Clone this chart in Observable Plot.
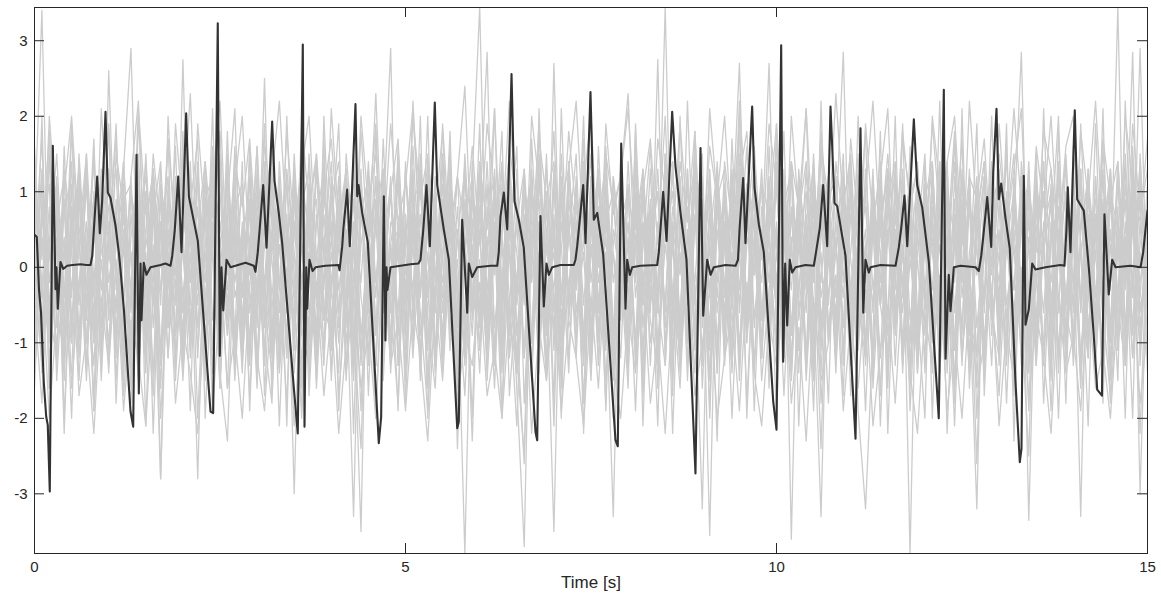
<!DOCTYPE html>
<html><head><meta charset="utf-8">
<script src="https://cdn.jsdelivr.net/npm/d3@7"></script>
<script src="https://cdn.jsdelivr.net/npm/@observablehq/plot@0.6"></script>
<style>body{margin:0;background:#fff}</style>
</head><body><div id="chart"></div>
<script>
// Tick labels
const xTicks = [0, 5, 10, 15];
const yTicks = [-3, -2, -1, 0, 1, 2, 3];

// Gray background traces (values at equal time steps over 0–15 s)
const grayA = [0.6,3.4,-0.8,1.1,-1.2,0.4,1.3,-0.5,0.9,-1.4, 2.6,-0.3,0.7,-1.1,1.5,-0.9,0.2,-2.8,1.0,-0.4, 1.2,-1.0,0.5,1.4,-0.7,0.1,-1.6,0.8,1.1,-0.6, 0.3,-1.3,1.6,-0.2,-1.8,0.9,0.4,-1.0,1.3,-0.5, -0.9,1.1,0.2,-1.5,0.7,1.2,-0.8,0.3,-1.2,1.4, -0.1,0.8,-1.4,1.0,-0.6,1.5,-0.3,-1.1,0.6,1.2, -0.7,0.4,-1.3,1.1,0.2,-1.6,-3.7,1.0,0.5,-0.9, 1.3,-0.4,0.7,-1.2,0.9,1.4,-0.8,0.2,-1.5,0.6, 1.0,-1.1,0.3,1.6,-0.5,-1.3,0.8,0.1,-0.9,1.2, -0.3,0.7,-1.4,1.1,-0.2,0.9,-1.0,1.5,-0.6,0.4, -1.2,0.8,1.3,-0.7,0.2,-1.5,1.0,-0.4,0.6,2.85, -0.8,0.3,-1.1,1.2,-0.5,0.9,1.4,-1.3,0.1,-0.7, 1.1,-0.9,0.5,1.3,-1.6,0.4,-0.2,1.0,-1.1,0.7, -0.4,1.5,-0.8,0.6,-1.3,1.1,0.2,-0.9,1.4,-0.5, 0.9,-1.2,0.3,-0.7,1.6,-0.3,3.45,-1.0,0.8,-0.6, 0.2];
const grayB = [-0.5,1.2,-1.6,0.3,0.9,-1.0,1.5,-0.2,-1.3,0.7, 0.4,-0.9,1.3,2.9,-0.6,0.2,-1.4,1.0,-0.3,1.6, -1.1,0.5,-2.8,0.9,1.2,-0.4,0.7,-1.5,0.3,1.1, -0.8,1.4,0.1,-1.2,0.6,-3.0,0.8,1.3,-0.5,-1.0, 1.2,-0.3,0.5,-1.4,1.0,0.4,-0.9,1.7,-0.6,0.2, -1.3,0.9,1.1,-0.7,-1.6,0.5,1.3,-0.2,-3.8,0.6, 1.0,-0.8,0.3,1.4,-1.2,-0.1,0.7,-1.0,1.5,-0.4, 0.2,-1.3,1.1,0.6,-0.9,1.2,-0.5,0.4,-1.1,1.3, -0.2,0.8,-1.5,0.3,1.0,-0.6,1.4,-1.2,0.5,-0.3, -3.2,1.1,-0.4,0.9,-1.3,0.2,1.6,-0.7,0.4,-1.0, 1.2,-0.5,0.8,-1.1,0.3,1.4,-0.9,0.6,-1.4,1.0, 0.1,-0.8,1.3,-0.3,0.7,-1.6,1.1,-0.2,0.5,-1.2, 0.9,1.4,-0.6,0.2,-1.0,1.2,-0.4,-3.2,1.1,0.3, -0.9,0.6,1.5,-1.3,0.4,-0.2,1.0,-0.7,1.3,-1.1, 0.5,-3.3,1.2,-0.4,0.8,-0.9,1.4,-0.1,2.85,-1.3, 0.6];
const grayC = [1.1,-0.4,0.8,-1.3,1.6,-0.7,0.2,1.2,-1.0,0.5, -1.4,0.9,0.3,-0.6,1.1,-1.2,0.7,1.4,-0.5,-1.1, 2.75,-0.8,0.4,-1.5,1.0,0.6,-0.3,1.3,-1.2,0.1, -0.6,2.5,-1.0,0.5,1.2,-1.4,0.3,-0.8,1.5,0.2, -1.1,0.7,1.0,-0.5,-3.5,1.3,-0.2,0.6,2.9,-1.3, 0.4,1.1,-0.9,0.2,-1.2,1.4,-0.6,0.8,-1.0,1.2, 3.45,-0.7,0.5,-1.3,1.0,-0.3,1.2,-1.5,0.6,-0.2, -3.5,0.9,1.3,-0.8,0.4,-1.1,1.6,-0.4,0.2,-1.2, 1.0,0.3,-1.3,0.7,-0.6,1.1,1.4,-0.9,0.2,-1.4, 0.8,-0.3,1.2,-1.0,0.5,2.7,-0.8,0.3,-1.2,1.1, -0.6,0.4,-1.4,1.3,-0.2,0.9,-1.1,0.5,1.2,-0.8, 0.2,1.5,-1.0,0.6,-0.4,1.1,-1.3,0.8,-3.8,0.9, -0.5,1.2,-0.9,0.3,1.4,-1.2,0.1,-2.6,0.9,-0.4, 1.3,-0.7,0.6,2.85,-1.1,0.4,-0.6,1.0,-1.4,0.7, -0.2,1.1,-1.0,0.5,1.3,-0.8,0.3,-1.2,1.6,-0.5, -0.3];
const grayD = [-1.2,0.5,1.4,-0.8,0.1,1.0,-1.5,0.6,-0.3,1.2, -0.7,0.3,1.1,-1.0,0.8,-0.4,1.3,-2.8,0.4,0.9, -0.6,1.2,-0.3,0.7,-1.4,1.5,-0.9,0.2,1.0,-1.1, 0.6,-0.2,1.3,-1.3,0.4,0.9,-0.7,1.1,-1.6,0.3, 1.4,-0.6,0.2,-1.1,1.0,-0.4,0.7,1.3,-1.2,0.5, -0.8,1.6,-0.3,0.5,-1.4,0.9,0.3,-1.0,1.2,-0.5, 0.7,2.85,-1.1,0.4,-0.6,1.3,-1.2,0.2,0.9,-1.3, 1.1,-0.5,0.6,-1.0,1.4,-0.2,0.8,-1.5,0.3,1.0, -0.9,0.4,1.2,-0.6,2.75,-1.3,0.5,-0.1,1.1,-0.8, 0.3,-3.55,0.9,-0.4,1.3,-1.1,0.6,1.0,-0.7,0.2, -1.0,1.2,-3.6,0.7,-0.3,1.5,-0.8,0.4,-1.2,0.9, 1.3,-0.6,0.2,-1.4,0.8,1.1,-0.5,0.3,-1.0,1.4, -0.3,0.6,-1.2,1.0,0.4,-0.8,1.3,-1.5,0.5,-0.1, 1.1,-0.9,0.7,-0.4,1.2,-1.3,0.3,0.8,-1.1,0.6, -0.5,1.3,-0.8,0.2,-1.2,1.0,0.5,-0.9,1.4,-3.0, 0.4];
const grayE = [0.3,-1.0,1.5,0.2,-1.3,0.8,-0.5,1.1,-0.9,0.6, 1.2,-1.5,0.4,-0.3,0.9,-1.1,1.3,0.1,-0.8,1.0, -0.4,0.7,-1.2,1.1,0.3,-1.6,0.9,-0.2,0.5,-1.0, 1.3,-0.7,0.2,1.0,-1.2,0.6,-0.9,1.5,-0.3,0.4, -1.4,0.8,-0.1,-3.3,0.9,-0.6,1.2,-1.0,0.3,1.1, -0.5,0.6,-1.3,1.4,-0.2,0.9,-1.1,0.4,1.3,-0.7, 0.1,-1.2,1.0,-0.4,0.8,-1.4,0.6,1.2,-0.9,0.3, 0.5,-1.0,1.3,-0.6,0.2,-1.5,1.1,-0.3,-3.3,0.9, -0.2,1.4,-0.8,0.5,-1.2,1.0,0.3,-0.7,1.3,-1.0, 0.6,-0.4,1.1,-1.3,0.2,1.5,-0.9,0.4,-0.2,1.2, -0.7,0.9,-1.2,0.3,1.0,-0.5,-3.3,0.7,-0.4,1.3, -1.1,0.4,0.8,-0.6,1.2,-1.4,0.5,-0.3,1.0,-0.8, 0.3,-1.0,1.4,-0.5,0.7,-1.3,0.9,-0.1,1.2,-0.6, -1.2,0.8,-0.3,1.1,-3.35,0.5,1.0,-0.7,0.2,-1.1, 1.3,-0.4,0.6,-1.0,0.9,-0.2,1.2,-0.8,0.5,1.1, -0.4];
const grayF = [-0.2,1.3,-0.9,0.4,-1.5,1.1,0.3,-0.7,1.6,-1.1, 0.5,-0.6,1.0,-1.3,0.2,1.4,-0.8,0.6,-1.2,0.9, 0.2,-1.1,1.3,-0.5,0.8,-0.9,1.5,-0.4,0.1,-1.3, 0.9,-0.3,-1.1,1.2,-0.6,0.4,1.4,-1.5,0.7,-0.2, 1.1,-0.8,0.5,-1.2,0.3,1.0,-0.4,1.3,-1.0,0.6, -0.3,1.2,-1.5,0.7,-0.1,1.1,-0.9,0.5,-1.2,1.4, -0.6,0.3,1.0,-1.1,0.6,-0.4,1.3,-0.9,0.2,-1.4, 1.2,-0.7,0.4,1.5,-1.0,0.3,-0.6,1.1,-1.3,0.8, -0.4,1.0,-1.1,0.6,-0.3,3.45,-0.9,1.2,-0.5,0.7, -1.2,0.4,1.3,-0.8,0.9,-0.3,1.1,-1.4,0.5,-0.6, 1.4,-1.0,0.3,0.8,-1.3,0.6,-0.2,1.2,-0.9,0.4, -0.5,1.1,-1.2,0.9,0.2,-1.5,1.3,-0.4,0.7,-1.0, 0.8,-0.3,1.2,-1.1,0.5,0.1,-1.4,1.0,-0.6,1.3, -0.9,0.3,1.0,-0.5,1.4,-1.2,0.6,-0.2,1.1,-1.3, 0.4,0.9,-1.1,1.2,-0.6,0.3,-1.0,1.5,-0.4,2.9, -0.7];
const grayG = [0.9,-1.4,0.6,1.1,-0.3,-1.0,1.4,-0.6,0.3,1.0, -1.2,0.7,-0.4,1.2,-0.9,0.5,1.3,-1.1,0.2,-0.5, 1.5,-0.2,0.8,-1.3,0.4,1.0,-0.7,0.3,-1.4,1.2, -0.5,0.6,-0.9,1.4,-0.2,1.1,-1.3,0.5,0.9,-1.1, 0.2,-0.6,1.3,-1.0,0.7,-0.3,1.2,-1.5,0.6,0.4, -0.9,1.0,-0.4,1.3,-1.1,0.2,0.8,-0.7,1.5,-0.3, -1.0,0.7,1.2,-0.6,0.3,-1.2,1.0,-0.2,0.6,-1.3, 2.7,-0.9,0.5,-0.3,1.2,-1.4,0.4,0.9,-0.8,0.2, -1.1,1.3,-0.5,0.7,1.0,-1.0,0.3,-1.3,1.1,-0.4, 0.6,-0.8,1.4,-0.3,0.2,-1.2,1.1,0.5,-1.0,0.8, -0.2,1.3,-0.9,0.4,-1.4,1.0,0.6,-0.5,1.2,-1.1, 0.7,-0.3,1.0,-1.2,0.5,1.3,-0.7,0.2,-1.0,1.1, -0.6,0.4,-1.3,0.8,-0.2,1.2,-0.9,0.6,1.4,-0.7, 0.2,-1.1,0.9,-0.4,1.3,-0.8,0.5,1.0,-1.2,0.3, -0.9,1.2,-0.3,0.7,-1.4,0.9,-0.5,1.1,-0.2,-1.0, 0.8];
const grayH = [-0.8,0.4,-0.2,1.2,-1.1,0.7,-0.9,1.3,-0.4,0.2, 0.6,-1.2,1.4,-0.5,0.3,-1.0,1.1,-0.3,0.8,-1.5, 0.4,1.1,-0.8,0.2,-1.1,1.3,-0.5,0.6,-0.9,1.5, -1.2,0.3,0.9,-0.6,1.1,-0.1,-1.4,0.8,-0.4,1.2, -0.3,0.9,-1.3,0.4,1.2,-0.8,0.6,-1.1,0.3,-0.6, 1.3,-0.5,0.7,-1.1,0.4,-0.2,1.1,-1.4,0.9,0.2, -0.5,1.4,-0.8,0.3,-1.1,0.8,-0.2,1.3,-1.2,0.5, -0.3,1.0,-1.2,0.4,0.9,-0.6,1.3,-1.0,0.2,-0.7, 1.4,-0.4,0.6,-1.0,-0.2,1.2,-1.3,0.5,0.8,-0.9, -0.1,1.3,-0.6,0.4,-1.2,0.7,1.0,-0.8,0.3,2.7, -0.9,0.5,-0.3,1.1,-1.2,0.4,0.9,-1.0,0.6,-0.4, 1.2,-1.1,0.3,0.7,-0.5,1.3,-0.9,0.2,-1.3,0.8, 0.4,-0.7,1.1,-1.4,0.6,-0.2,1.0,-0.8,0.3,1.2, -1.3,0.7,0.2,-0.6,1.1,-1.0,0.5,1.3,-0.4,-0.9, 0.8,-0.5,1.3,-1.2,0.2,-0.8,1.1,-0.3,0.6,-1.1, 1.0];
const grayI = [1.4,-0.7,0.2,-1.1,0.8,-0.3,1.0,-1.3,0.5,1.2, -0.5,0.8,-1.3,0.4,1.2,-0.9,0.3,-1.2,1.1,-0.2, -0.8,0.6,1.2,-1.2,0.5,-0.6,1.4,-1.0,0.2,0.7, -1.3,1.1,-0.4,0.8,-1.0,1.3,-0.2,0.5,-1.2,0.9, 0.4,-1.0,0.7,1.1,-0.9,0.3,-1.3,0.8,-0.5,1.2, -1.1,0.3,1.2,-0.4,0.9,-1.2,0.6,-0.8,1.4,-0.6, 0.5,-1.3,0.8,-0.2,1.1,-0.9,0.4,1.2,-1.1,0.3, -0.8,1.2,-0.4,0.6,-1.3,1.0,-0.2,0.7,-0.9,1.4, -0.6,0.2,1.1,-1.3,0.6,-0.5,1.3,-0.9,0.4,-0.2, 1.2,-1.0,0.5,-0.6,1.1,-1.3,0.3,0.9,-0.7,1.0, 0.3,-1.2,0.7,-0.4,1.3,-0.9,0.5,1.0,-1.1,0.2, -0.6,1.3,-0.2,0.5,-1.2,0.9,-0.6,1.1,0.3,-1.3, 1.0,-0.5,0.3,-1.1,1.2,-0.4,0.8,-1.2,0.2,1.4, -0.7,0.5,-1.0,1.2,-0.6,0.9,-1.3,0.4,0.8,-0.5, 1.1,-1.3,0.4,0.9,-0.7,1.2,-0.4,0.3,-1.2,0.6, -0.9];
const grayJ = [-1.6,0.8,-0.5,1.0,-2.0,0.4,1.1,-1.4,0.7,-0.8, 1.3,-1.8,0.5,0.2,-1.5,1.0,-2.2,0.6,-0.6,1.2, -1.3,0.9,-2.0,0.3,1.1,-1.6,0.5,-0.9,1.4,-1.9, 0.6,-1.2,0.8,-2.1,0.4,-1.0,1.2,-1.7,0.2,-0.7, 1.0,-1.9,0.3,-0.8,-2.4,0.6,-1.3,0.9,-0.5,-1.8, 0.7,-1.1,1.3,-2.0,0.4,-0.9,1.0,-1.6,0.2,-2.3, 0.8,-0.6,1.1,-1.9,0.3,-1.2,-2.5,0.5,-1.4,0.9, -2.1,1.0,-0.7,0.4,-1.8,1.2,-0.9,0.2,-2.0,0.6, -1.1,0.8,-1.7,0.3,-0.5,1.1,-2.2,0.5,-1.0,1.3, -1.6,0.4,-2.3,0.9,-0.6,1.0,-1.8,0.3,-1.1,0.7, -2.0,0.6,-0.9,1.2,-1.5,0.2,-2.4,0.8,-0.7,1.0, -1.7,0.4,-1.1,0.9,-2.1,0.5,-0.8,1.3,-1.9,0.2, 0.7,-1.4,1.0,-2.2,0.4,-0.9,1.2,-2.0,0.3,-1.3, 0.9,-1.8,0.5,-0.7,-2.5,1.1,-1.2,0.6,-2.0,0.8, -1.0,0.3,-2.1,1.2,-0.6,-1.7,0.4,-0.9,1.0,-2.2, 0.5];
const grayK = [1.6,-0.4,2.0,0.6,-0.9,1.8,0.2,1.3,-0.7,2.1, 0.4,1.7,-0.5,1.2,2.2,-0.3,1.5,0.5,-0.8,1.9, 0.7,2.3,-0.2,1.4,0.3,1.8,-0.6,1.1,2.0,0.1, 1.6,-0.4,1.2,2.2,0.5,-0.7,1.9,0.8,1.4,-0.3, 2.1,0.6,1.3,-0.5,1.8,0.2,2.3,-0.2,1.0,1.7, -0.4,2.0,0.9,1.5,-0.6,1.9,0.3,1.2,2.4,-0.1, 1.4,0.5,2.1,-0.3,1.6,0.8,-0.5,2.0,1.1,0.2, 1.8,-0.4,1.3,2.2,0.4,1.5,-0.6,1.9,0.7,1.2, 2.3,-0.2,1.0,1.7,0.3,2.0,-0.5,1.4,0.6,1.8, -0.3,2.1,0.9,1.3,-0.4,2.2,0.5,1.6,0.1,1.9, 1.1,-0.6,2.0,0.7,1.4,-0.2,1.8,0.4,2.3,0.8, 1.5,-0.4,1.9,0.6,1.2,2.1,-0.3,1.7,0.9,1.3, -0.5,2.0,1.1,0.3,1.8,-0.2,2.2,0.7,1.4,-0.6, 1.9,0.5,1.3,2.1,-0.4,1.6,0.8,2.0,0.2,1.5, -0.3,1.8,0.9,2.2,0.4,1.3,-0.5,2.0,1.1,0.6, 1.7];
const grayL = [0.2,1.7,-1.3,0.6,-0.4,1.9,-1.0,0.3,-1.8,1.2, -0.6,1.5,0.8,-1.4,2.0,-0.3,-1.7,1.1,0.4,-0.9, 1.8,-1.2,0.5,-0.2,1.6,-1.5,0.9,2.1,-0.8,0.3, -1.6,1.3,0.6,-1.1,2.0,-0.5,-1.9,0.8,1.5,-0.7, 0.4,1.9,-1.4,-0.3,1.2,-1.7,0.9,0.2,-1.1,1.6, -0.8,2.2,0.3,-1.5,0.7,-0.4,1.8,-1.2,0.5,-2.0, 1.3,-0.6,2.1,-1.0,0.4,1.6,-1.8,0.2,1.9,-0.9, 0.6,-1.6,1.4,-0.3,2.0,-1.1,0.8,-1.9,1.2,0.3, -1.3,1.7,-0.2,0.9,-1.6,1.5,0.4,-1.0,2.2,-0.5, 0.7,-1.9,1.2,0.3,-1.4,2.0,-0.7,1.0,-1.2,1.6, -0.4,1.8,-1.5,0.5,2.1,-1.0,0.2,-1.8,1.4,0.6, -1.1,2.0,-0.6,1.3,-1.7,0.8,-0.2,1.9,-1.4,0.4, 1.5,-0.9,2.2,-1.2,0.3,1.7,-1.6,0.6,-0.4,2.0, -1.0,0.9,-1.7,1.4,0.2,-1.3,2.1,-0.5,0.8,-1.8, 1.6,0.3,-1.2,1.9,-0.7,0.5,-1.5,2.2,-0.3,1.0, -1.4];
const grayM = [-0.9,2.0,-1.6,1.1,-2.2,0.6,-0.3,1.5,-1.9,0.4, 1.8,-1.0,0.3,-1.6,1.4,-2.1,0.9,-0.5,1.7,-1.3, 0.6,-1.9,1.3,-0.7,2.1,-1.4,-2.3,0.5,-1.1,1.6, -0.4,1.9,-1.7,0.7,-1.2,1.4,-2.0,0.2,-0.8,1.7, -1.5,0.5,1.2,-2.2,0.9,-0.6,1.8,-1.3,0.3,-1.9, 1.4,-0.7,2.0,-1.6,0.6,-1.1,1.2,-2.4,0.8,-0.5, 1.9,-1.5,0.4,-2.0,1.3,-0.8,-2.6,1.7,-0.3,1.0, -1.8,2.1,-0.6,1.2,-2.2,0.7,-1.3,1.6,-0.9,0.3, -1.4,1.8,-2.1,0.8,-0.5,1.3,-1.7,2.0,-1.0,0.6, 1.5,-2.0,0.9,-1.2,1.7,-0.6,1.1,-1.9,0.5,-1.4, 1.9,-0.8,1.3,-2.1,0.6,-1.5,2.2,-1.0,0.4,-1.7, 1.2,-1.9,-3.2,-0.9,1.8,-2.2,0.5,-1.3,1.6,-0.6, -2.0,1.4,-0.5,1.0,-1.8,2.1,-1.2,0.7,-1.5,1.3, -0.7,1.9,-2.3,0.9,-1.0,1.5,-1.8,0.4,2.0,-1.2, 0.6,-1.6,1.3,-0.9,2.1,-1.5,0.8,-2.0,1.4,-0.4, 1.1];
const grayN = [0.7,-1.1,0.3,1.5,-0.6,-1.4,0.9,0.2,-1.0,1.3, -0.2,0.6,-1.5,1.0,0.4,-0.8,1.2,-1.3,0.5,-0.1, 1.1,-0.7,0.3,-1.2,1.4,0.1,-0.9,1.0,-0.4,0.8, -1.5,0.5,1.2,-0.3,0.7,-1.1,1.3,-0.6,0.2,-1.3, 0.9,1.4,-0.5,0.3,-1.2,0.8,-0.2,1.1,-1.4,0.6, 0.2,-0.9,1.5,-0.4,1.0,-1.3,0.5,1.2,-0.7,0.3, -1.4,0.8,-0.1,1.3,-0.9,0.6,-1.2,1.0,0.4,-0.6, 1.2,-1.3,0.5,-0.2,1.4,-0.8,0.3,-1.1,0.9,-0.4, 0.6,-1.0,1.3,-0.5,0.2,1.1,-1.4,0.7,-0.3,1.5, -0.8,0.3,-1.2,1.4,0.6,-0.5,1.0,-1.3,0.8,-0.2, 1.3,-0.6,0.4,-1.4,0.9,1.2,-0.7,0.2,-1.1,1.0, -0.4,0.7,-1.3,0.5,1.4,-0.9,0.2,-0.6,1.1,-1.2, 0.6,1.3,-0.8,0.4,-1.5,0.9,-0.3,1.2,-1.0,0.5, -0.2,1.0,-1.4,0.8,0.3,-0.7,1.4,-1.1,0.4,0.9, -1.3,0.5,1.1,-0.4,0.8,-1.2,0.2,1.3,-0.9,0.3, 0.8];
const grayO = [-1.3,0.9,-0.2,0.6,1.2,-0.8,0.4,-1.5,1.0,-0.3, 0.8,1.3,-1.0,0.2,-0.7,1.5,-0.4,0.9,-1.2,0.5, -0.6,1.4,-1.1,0.3,0.9,-0.5,1.2,-1.4,0.6,-0.1, 1.0,-0.8,0.5,-1.3,1.3,0.2,-0.6,1.1,-1.0,0.7, -0.4,1.2,-1.5,0.6,-0.2,1.4,-0.9,0.3,1.1,-1.2, 0.5,-0.3,1.3,-1.0,0.8,-0.6,1.1,-1.4,0.2,0.9, -0.7,1.1,-1.3,0.5,1.5,-0.4,0.2,-1.0,1.3,-0.8, 0.4,-1.4,0.9,-0.1,1.2,-0.9,0.6,1.4,-1.2,0.3, -0.6,1.2,-0.3,0.8,-1.3,0.4,1.0,-0.7,1.3,-1.1, 0.2,0.9,-1.4,0.6,-0.5,1.3,-1.0,0.3,1.1,-0.9, 0.5,-1.2,1.4,-0.3,0.7,-1.1,0.4,1.2,-1.3,0.6, 1.0,-0.5,-1.2,0.8,-0.2,1.3,-0.8,0.5,1.1,-1.4, 0.3,-0.9,1.4,-0.6,0.9,-1.2,0.2,1.0,-0.5,1.3, -1.1,0.4,-0.3,1.2,-1.4,0.7,1.0,-0.8,0.3,-1.0, 1.2,-0.6,0.7,-1.3,0.5,1.1,-1.1,0.4,-0.2,1.4, -0.5];
const grayP = [-0.5,-1.8,0.4,-1.1,0.9,-1.6,-0.2,0.6,-1.9,0.1, -1.0,0.7,-1.7,-0.3,0.5,-1.4,0.8,-2.0,-0.1,0.4, -1.5,0.2,-0.8,0.9,-1.9,-0.4,0.6,-1.3,0.3,-1.7, 0.5,-1.0,-1.8,0.7,-0.5,0.2,-1.6,0.8,-1.2,-0.2, 0.6,-1.7,-0.4,0.9,-1.3,0.1,-2.0,0.5,-0.9,0.3, -1.5,0.7,-0.6,-1.9,0.4,-1.1,0.8,-0.3,-1.7,0.6, -0.8,0.3,-1.6,0.9,-0.4,-2.1,0.5,-1.0,0.2,-1.5, 0.7,-1.2,-0.2,0.6,-1.8,0.3,-0.9,0.8,-1.4,-0.5, 0.4,-1.9,0.6,-0.7,-1.3,0.8,-0.3,-1.6,0.5,-1.0, 0.9,-1.4,-0.1,0.5,-2.0,0.2,-0.8,0.7,-1.5,-0.3, 0.6,-1.7,0.3,-1.1,-0.4,0.8,-1.8,0.1,-0.6,0.9, -1.3,0.4,-1.9,0.6,-0.5,-1.2,0.7,-0.2,-1.6,0.5, -0.9,0.8,-1.4,0.2,-2.1,0.6,-0.7,-1.1,0.9,-0.4, -1.7,0.3,-0.6,0.8,-1.3,-0.2,0.5,-1.9,0.4,-0.8, 0.7,-1.5,0.1,-1.0,0.6,-1.8,-0.3,0.9,-1.2,0.2, -0.6];
const grayQ = [1.2,0.1,1.8,-0.3,1.0,2.0,0.4,1.5,-0.2,1.1, 1.9,0.3,1.4,-0.4,2.1,0.7,1.2,0.0,1.7,0.5, 1.3,-0.2,1.9,0.6,1.1,2.2,-0.1,1.4,0.8,1.7, 0.2,1.6,0.9,-0.3,1.8,0.5,1.3,2.0,0.1,1.0, 1.7,0.4,1.2,-0.2,2.0,0.8,1.5,0.3,1.9,0.6, 1.1,2.1,0.2,1.4,0.7,1.8,-0.3,1.2,0.5,1.6, 0.3,1.9,1.0,0.4,2.2,0.6,1.3,-0.1,1.7,0.9, 1.4,0.2,1.8,0.7,1.1,2.0,0.0,1.5,0.8,1.2, 2.1,0.5,1.3,-0.2,1.7,1.0,0.3,1.9,0.6,1.4, 0.1,1.6,0.9,2.0,0.4,1.2,1.8,-0.1,1.1,0.7, 1.9,0.3,1.4,0.8,2.1,0.2,1.6,0.9,1.2,-0.2, 1.7,0.6,1.0,2.2,0.4,1.5,0.1,1.8,0.8,1.3, 0.2,1.9,0.7,1.4,2.0,0.3,1.2,0.9,1.7,0.0, 1.5,0.6,2.1,0.8,1.1,0.2,1.8,1.3,0.4,1.6, 2.0,0.5,1.2,0.1,1.7,0.9,1.4,-0.2,1.9,0.7, 1.3];
const grayR = [-1.4,-0.2,-2.0,-0.6,-1.1,0.3,-1.7,-0.9,-2.2,-0.4, -1.3,0.1,-1.9,-0.7,-1.2,-2.1,-0.3,-1.5,0.2,-1.8, -0.8,-1.4,-2.2,-0.5,-1.0,0.2,-1.6,-0.9,-2.0,-0.3, -1.2,-1.9,-0.4,-1.4,0.0,-2.1,-0.8,-1.3,-0.2,-1.7, -0.6,-2.2,-1.0,-0.3,-1.6,-0.8,-2.0,0.1,-1.3,-0.7, -1.9,-0.5,-1.2,-2.3,-0.4,-1.5,0.2,-1.8,-0.9,-1.3, -0.2,-1.7,-1.1,-2.0,-0.6,-1.4,-0.1,-2.2,-0.8,-1.5, -0.3,-1.9,-0.7,-1.2,-2.1,-0.4,-1.6,0.1,-1.3,-2.0, -0.6,-1.4,-0.2,-1.8,-0.9,-2.2,-0.5,-1.1,0.0,-1.7, -1.0,-0.3,-2.0,-1.2,-0.6,-1.9,-0.2,-1.4,-2.1,-0.7, -1.3,0.0,-1.8,-0.8,-2.3,-0.4,-1.5,-1.0,-0.1,-1.9, -0.7,-1.6,-0.3,-2.1,-1.1,-0.5,-1.8,-0.2,-1.4,-2.2, -0.6,-1.3,-0.1,-1.9,-0.9,-2.0,-0.4,-1.6,-1.0,-0.3, -2.1,-0.8,-1.5,0.0,-1.8,-0.6,-1.2,-2.2,-0.4,-1.4, -0.9,-1.9,-0.3,-1.6,-1.1,-2.0,-0.5,-1.3,-0.1,-1.8, -0.8];
const grayS = [0.4,1.0,-0.6,-1.2,1.3,0.5,-0.9,0.1,1.4,-1.0, 0.2,-0.5,0.9,1.1,-1.4,0.4,-0.2,1.3,-0.8,0.6, -1.2,1.0,0.1,-0.6,1.5,-1.0,0.3,0.8,-1.3,0.4, 1.1,-0.5,-1.4,0.9,0.2,-0.8,1.2,0.4,-1.1,1.4, -0.7,0.5,-1.0,0.2,1.3,-1.3,0.7,-0.3,1.0,-0.9, 1.2,0.3,-1.2,0.6,-0.4,1.4,-0.8,0.1,-1.3,0.9, 0.4,-1.0,1.3,-0.5,0.9,-1.4,0.2,1.1,-0.6,1.5, -1.1,0.6,-0.3,1.0,-1.2,0.4,1.3,-0.9,0.5,-0.2, 1.1,-1.3,0.3,0.8,-0.6,1.4,-1.1,0.2,-0.8,1.0, -0.4,1.2,-1.0,0.3,0.9,-1.5,0.6,-0.1,1.3,-0.7, 0.2,-1.1,1.4,-0.6,0.5,-1.3,1.1,0.3,-0.9,1.2, -0.3,0.8,-1.2,1.0,-0.5,0.4,1.3,-1.0,0.6,-1.4, 1.1,0.2,-0.7,1.4,-1.1,0.5,-0.2,0.9,-1.3,0.6, 0.3,-1.2,1.2,-0.4,0.7,-0.9,1.4,-1.3,0.1,1.0, -0.6,1.3,-1.0,0.4,0.8,-1.4,0.6,-0.1,1.2,-0.8, 0.3];
const grayT = [-0.3,0.6,1.1,-1.5,0.3,-0.4,1.2,-1.0,0.8,-0.6, 1.3,-0.2,-1.1,0.7,-0.3,1.0,-1.5,0.5,1.2,-0.9, 0.3,-0.5,1.4,-1.0,0.6,-1.3,0.2,1.1,-0.7,0.9, -0.4,1.2,-1.2,0.3,-0.9,1.5,-0.3,0.6,-1.4,1.0, -0.2,0.7,-0.8,1.4,-1.2,0.5,0.9,-0.6,1.2,-1.3, 0.7,-1.2,0.4,-0.6,1.2,-1.0,1.4,-0.5,0.3,-0.9, 1.2,-0.3,0.6,-1.4,0.9,0.2,-1.1,0.7,-0.4,1.3, -0.6,0.3,-1.4,1.1,-0.5,0.8,-1.0,1.3,-0.2,0.5, -1.2,0.9,-0.4,1.3,-1.0,0.3,-0.5,1.1,-1.5,0.6, 0.4,-1.1,0.8,-0.2,-1.3,1.1,-0.6,1.4,-1.0,0.2, -0.5,1.0,-0.8,0.6,-1.2,1.3,-0.4,0.2,1.1,-1.3, 0.9,-0.2,0.5,-1.3,1.2,-0.7,1.0,-1.2,0.3,1.1, -1.4,0.6,-0.3,1.1,-0.6,0.8,-1.3,0.4,1.2,-0.9, 0.5,-1.3,1.1,-0.2,0.6,-1.0,0.3,-1.4,1.2,-0.5, 0.9,-0.4,-1.2,0.7,-0.3,1.3,-1.1,0.6,-0.8,1.2, -0.2];
const grayU = [1.0,-0.2,-1.0,0.8,-0.7,1.4,-1.2,0.3,0.9,-1.5, 0.6,-1.1,0.9,-0.4,1.3,-0.6,0.1,-1.3,1.0,0.3, -0.9,0.8,-0.5,1.2,-1.1,0.4,-0.7,1.6,-0.2,-1.2, 0.7,-0.6,1.3,-0.9,0.5,-0.4,1.0,-1.2,0.6,1.3, -1.0,0.3,-0.6,1.5,-0.4,-1.1,0.8,-0.2,1.1,-0.8, 0.3,1.3,-1.1,-0.1,0.7,-1.4,1.0,0.4,-0.8,1.1, -1.1,0.2,0.9,-0.8,1.4,-0.5,0.3,-1.3,1.1,0.5, -0.9,1.5,-0.6,0.3,-1.0,1.2,-1.3,0.6,1.0,-0.5, 0.3,-1.2,0.9,-0.4,1.3,-0.8,0.6,-1.4,0.2,1.1, -1.3,0.7,-0.2,1.1,-1.0,0.4,-0.6,1.3,-1.2,0.5, 1.0,-0.3,-1.3,0.9,-0.6,1.1,-1.4,0.6,0.3,-0.8, 1.4,-1.0,0.3,-0.5,1.0,-1.2,0.7,1.2,-0.7,0.1, -1.2,1.0,-0.4,0.7,-1.1,1.3,-0.6,0.3,-1.4,0.8, 1.2,-0.5,0.3,-1.2,0.9,-0.2,-1.0,1.1,-0.6,1.4, -1.1,0.2,0.9,-0.6,1.2,-1.0,0.4,-1.3,0.7,-0.2, 0.6];
const grayV = [-0.1,-1.3,1.8,-0.6,0.4,-2.0,1.0,-0.3,1.7,-1.2, 0.3,1.9,-0.9,-1.8,0.6,1.2,-0.4,-1.6,2.0,0.1, -1.4,0.8,1.7,-2.0,0.2,-0.7,1.8,-1.1,0.5,-0.3, 1.6,-1.7,0.4,0.9,-2.1,1.3,-0.5,0.2,-1.5,2.0, -0.3,-1.4,1.5,0.3,-1.9,0.7,1.9,-1.0,-0.2,1.4, -1.8,0.6,-0.4,2.0,-1.3,0.1,1.6,-2.0,0.8,-0.6, 1.3,-1.1,0.2,1.8,-1.7,-0.3,1.1,-1.5,2.1,-0.8, 0.5,-2.0,1.4,-0.2,1.7,-1.2,0.4,-1.8,1.2,0.0, -1.6,1.9,-0.5,0.3,-2.1,1.5,-0.7,1.0,-1.3,1.8, -0.2,-1.5,1.3,-0.9,0.6,1.9,-2.0,0.4,1.1,-1.6, 1.7,-0.6,-1.4,1.2,0.3,-1.9,1.6,-0.8,0.2,1.5, -1.2,0.5,1.8,-1.6,0.1,-0.7,2.0,-1.4,0.6,-1.0, 1.4,-2.0,0.8,-0.3,1.7,-1.1,-0.2,1.9,-1.7,0.4, -0.5,1.6,-1.3,0.9,-1.9,1.2,0.2,-1.5,1.8,-0.6, -1.1,1.9,-0.4,0.7,-1.8,1.3,-0.9,0.4,-2.0,1.5, -0.3];
const graySeries = [grayA, grayB, grayC, grayD, grayE, grayF, grayG, grayH, grayI, grayJ, grayK, grayL, grayM, grayN, grayO, grayP, grayQ, grayR, grayS, grayT, grayU, grayV];

// Dark trace: time [s] and value
const ecgTime = [
  0, 0.031, 0.061, 0.088, 0.125, 0.158, 0.179, 0.206, 0.247, 0.283,
  0.296, 0.314, 0.350, 0.387, 0.441, 0.512, 0.620, 0.701, 0.755, 0.778,
  0.809, 0.845, 0.880, 0.912, 0.957, 0.988, 1.024, 1.092, 1.136, 1.159,
  1.204, 1.294, 1.330, 1.375, 1.406, 1.429, 1.442, 1.473, 1.509, 1.563,
  1.698, 1.765, 1.833, 1.856, 1.891, 1.937, 1.981, 2.044, 2.080, 2.125,
  2.201, 2.372, 2.408, 2.470, 2.497, 2.520, 2.543, 2.588, 2.642, 2.776,
  2.844, 2.956, 2.978, 3.009, 3.036, 3.082, 3.127, 3.203, 3.235, 3.292,
  3.338, 3.495, 3.548, 3.616, 3.639, 3.662, 3.675, 3.706, 3.747, 3.787,
  3.922, 4.097, 4.111, 4.147, 4.164, 4.214, 4.249, 4.326, 4.349, 4.367,
  4.416, 4.492, 4.627, 4.640, 4.672, 4.708, 4.730, 4.744, 4.757, 4.798,
  4.933, 5.067, 5.175, 5.202, 5.238, 5.283, 5.328, 5.395, 5.427, 5.516,
  5.584, 5.697, 5.718, 5.764, 5.832, 5.853, 5.899, 5.966, 6.146, 6.236,
  6.257, 6.280, 6.325, 6.371, 6.429, 6.469, 6.527, 6.594, 6.752, 6.775,
  6.819, 6.864, 6.900, 6.931, 6.977, 7.089, 7.268, 7.291, 7.314, 7.395,
  7.426, 7.493, 7.538, 7.584, 7.664, 7.830, 7.861, 7.907, 7.965, 7.988,
  8.023, 8.055, 8.167, 8.392, 8.414, 8.473, 8.518, 8.594, 8.639, 8.706,
  8.787, 8.908, 8.976, 9.012, 9.066, 9.111, 9.155, 9.313, 9.448, 9.481,
  9.505, 9.551, 9.582, 9.672, 9.704, 9.762, 9.829, 9.956, 10.000, 10.063,
  10.090, 10.117, 10.144, 10.179, 10.212, 10.256, 10.391, 10.503, 10.539, 10.584,
  10.629, 10.683, 10.728, 10.782, 10.818, 10.930, 11.065, 11.132, 11.169, 11.199,
  11.244, 11.267, 11.402, 11.604, 11.648, 11.681, 11.725, 11.762, 11.851, 11.896,
  11.964, 12.053, 12.187, 12.255, 12.278, 12.322, 12.345, 12.390, 12.480, 12.682,
  12.726, 12.759, 12.786, 12.840, 12.894, 12.921, 12.965, 12.996, 13.028, 13.086,
  13.144, 13.221, 13.279, 13.302, 13.333, 13.356, 13.400, 13.446, 13.491, 13.625,
  13.827, 13.881, 13.908, 13.926, 13.962, 14.020, 14.052, 14.141, 14.209, 14.276,
  14.322, 14.386, 14.420, 14.478, 14.524, 14.569, 14.771, 14.906, 14.942, 14.973,
  15.0
];
const ecgValue = [
  0.43, 0.40, -0.3, -0.6, -1.52, -1.98, -2.09, -2.97, 1.61, -0.29,
  0.0, -0.55, 0.07, -0.02, 0.02, 0.03, 0.04, 0.03, 0.03, 0.15,
  0.64, 1.2, 0.45, 0.88, 2.06, 0.99, 0.92, 0.55, 0.2, -0.03,
  -0.55, -1.91, -2.11, 1.49, -1.67, 0.05, -0.7, 0.06, -0.1, 0.0,
  0.03, 0.05, 0.02, 0.15, 0.5, 1.2, 0.2, 2.04, 0.94, 0.72,
  0.35, -1.91, -1.93, 3.23, -1.17, 0.0, -0.57, 0.1, 0.0, 0.04,
  0.06, 0.02, -0.06, 0.2, 0.52, 1.09, 0.26, 1.93, 1.14, 0.72,
  0.32, -1.6, -2.2, 2.95, -2.11, 0.0, -0.55, 0.1, -0.05, 0.0,
  0.02, 0.03, -0.04, 0.28, 0.52, 1.03, 0.28, 2.16, 0.94, 1.09,
  0.72, 0.33, -2.09, -2.33, -1.98, 0.94, -0.97, 0.0, -0.3, 0.0,
  0.02, 0.04, 0.05, 0.1, 0.48, 1.09, 0.28, 2.18, 1.09, 0.5,
  0.1, -2.13, -2.05, 0.63, -0.6, 0.05, -0.13, 0.0, 0.02, 0.02,
  0.2, 0.67, 0.99, 0.5, 2.56, 0.87, 0.63, 0.26, -2.18, -2.29,
  0.68, -0.52, 0.05, -0.1, 0.0, 0.03, 0.03, 0.1, 0.28, 1.09,
  0.32, 2.32, 0.63, 0.72, 0.17, -2.29, -2.37, 1.64, -0.55, 0.1,
  -0.1, 0.0, 0.02, 0.03, 0.2, 1.0, 0.35, 2.06, 1.33, 0.72,
  0.1, -2.73, 1.58, -0.64, 0.1, -0.1, 0.0, 0.03, 0.02, 0.1,
  0.55, 1.18, 0.32, 2.13, 1.05, 0.57, 0.2, -1.78, -2.15, 2.94,
  -1.25, 0.05, -0.77, 0.1, -0.07, 0.0, 0.03, 0.02, 0.24, 0.52,
  1.09, 0.28, 2.13, 0.85, 0.81, 0.15, -2.27, 1.84, -0.6, 0.1,
  -0.07, 0.0, 0.03, 0.02, 0.26, 0.52, 0.95, 0.28, 1.96, 1.09,
  0.79, 0.07, -2.0, 2.35, -1.21, -0.1, -0.58, 0.0, 0.02, 0.0,
  -0.05, 0.15, 0.4, 0.93, 0.27, 1.26, 2.1, 0.9, 1.11, 0.65,
  0.25, -1.52, -2.58, -2.4, 1.21, -0.76, -0.56, 0.05, -0.03, 0.0,
  0.03, 0.02, 0.5, 1.06, 0.2, 2.08, 0.9, 0.75, 0.0, -0.91,
  -1.62, -1.7, 0.7, -0.36, 0.1, 0.0, 0.02, 0.0, 0.2, 0.5,
  0.75
];

const grayData = graySeries.flatMap((s, k) => s.map((v, i) => ({series: k, t: i * 15 / (s.length - 1), v})));
const ecg = ecgTime.map((t, i) => ({t, v: ecgValue[i]}));

const W = 1161, H = 599, mL = 34, mR = 14, mT = 7, mB = 46;
const innerW = W - mL - mR, innerH = H - mT - mB;
const tickLen = 10;
const ink = "#262626";

const chart = Plot.plot({
  width: W, height: H,
  marginLeft: mL, marginRight: mR, marginTop: mT, marginBottom: mB,
  style: {fontFamily: "'Liberation Sans', Arial, Helvetica, sans-serif", fontSize: "15px", color: ink, background: "#fff"},
  x: {domain: [0, 15]},
  y: {domain: [-3.79, 3.44]},
  marks: [
    Plot.line(grayData, {x: "t", y: "v", z: "series", stroke: "#cccccc", strokeWidth: 1.3, clip: true}),
    Plot.line(ecg, {x: "t", y: "v", stroke: "#333333", strokeWidth: 2.1, clip: true}),
    Plot.tickY(yTicks, {y: d => d, insetRight: innerW - tickLen, stroke: ink}),
    Plot.tickY(yTicks, {y: d => d, insetLeft: innerW - tickLen, stroke: ink}),
    Plot.tickX(xTicks, {x: d => d, insetTop: innerH - tickLen, stroke: ink}),
    Plot.tickX(xTicks, {x: d => d, insetBottom: innerH - tickLen, stroke: ink}),
    Plot.frame({stroke: ink}),
    Plot.axisY(yTicks, {tickSize: 0, tickPadding: 7, label: null, tickFormat: d => String(d)}),
    Plot.axisX(xTicks, {tickSize: 0, tickPadding: 8, label: null, tickFormat: d => String(d)}),
    Plot.text(["Time [s]"], {text: d => d, frameAnchor: "bottom", dy: 34, fontSize: 17, fill: ink})
  ]
});
document.getElementById("chart").appendChild(chart);
</script>
</body></html>
